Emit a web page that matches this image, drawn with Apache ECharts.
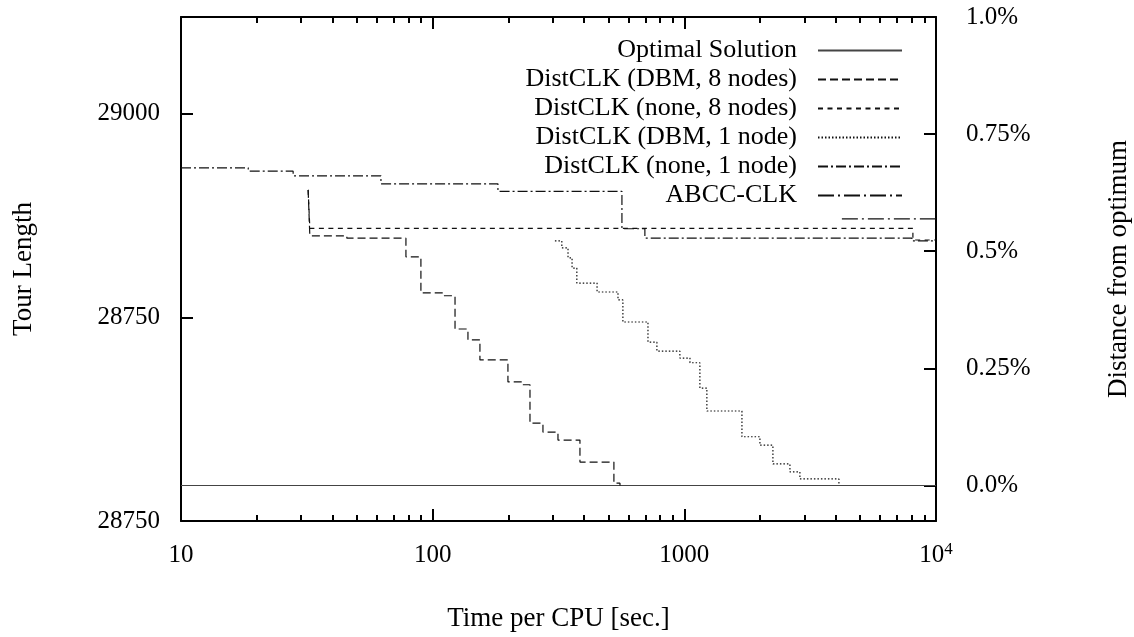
<!DOCTYPE html>
<html>
<head>
<meta charset="utf-8">
<script src="https://cdn.jsdelivr.net/npm/echarts@6/dist/echarts.min.js"></script>
<style>
  html, body { margin: 0; background: #fff; }
  #chart { width: 1134px; height: 637px; }
</style>
</head>
<body>
<div id="chart"></div>
<script>
// tick values / labels
const xTickValues = [10, 100, 1000, 10000];
const xTickLabels = ['10', '100', '1000', '10^4'];
const xMinorTicks = [20, 30, 40, 50, 60, 70, 80, 90, 200, 300, 400, 500, 600, 700, 800, 900,
  2000, 3000, 4000, 5000, 6000, 7000, 8000, 9000];
const leftTickValues = [28500, 28750, 29000];
const leftTickLabels = ['28750', '28750', '29000'];
const rightTickValues = [0, 0.25, 0.5, 0.75, 1.0];
const rightTickLabels = ['0.0%', '0.25%', '0.5%', '0.75%', '1.0%'];

const names = ['Optimal Solution', 'DistCLK (DBM, 8 nodes)', 'DistCLK (none, 8 nodes)',
  'DistCLK (DBM, 1 node)', 'DistCLK (none, 1 node)', 'ABCC-CLK'];

// [time in sec, distance from optimum in %]
const optimal = [[10, 0], [10000, 0]];
const dbm8 = [[32, 0.631], [32.5, 0.533], [45.6, 0.528], [78.3, 0.488], [89.8, 0.411], [109.9, 0.405],
  [122.7, 0.334], [138.1, 0.311], [154.1, 0.268], [199.1, 0.221], [228.5, 0.215], [243.6, 0.133],
  [274.3, 0.114], [314.7, 0.097], [384.8, 0.050], [525, 0.005], [555, 0]];
const none8 = [[32, 0.631], [32.5, 0.549], [8095, 0.524], [10000, 0.524]];
const dbm1 = [[306, 0.522], [326, 0.507], [345, 0.486], [358, 0.464], [374, 0.432], [450, 0.413],
  [545, 0.396], [570, 0.349], [717, 0.306], [778, 0.287], [960, 0.272], [1053, 0.262], [1153, 0.208],
  [1229, 0.159], [1694, 0.104], [1997, 0.086], [2249, 0.046], [2628, 0.029], [2879, 0.014], [4114, 0]];
const none1 = [[10, 0.678], [18.5, 0.671], [27.9, 0.661], [62.3, 0.644], [181.7, 0.628], [565, 0.548],
  [697, 0.528], [8023, 0.522], [10000, 0.522]];
const abcc = [[4227, 0.569], [10000, 0.569]];

const FONT = 'Liberation Serif';
const txt = { fontFamily: FONT, fontSize: 25, color: '#000' };
const nameTxt = { fontFamily: FONT, fontSize: 27, color: '#000' };
const frame = { color: '#000', width: 2 };

const seriesData = [optimal, dbm8, none8, dbm1, none1, abcc];
const dashes = ['solid', [8, 4], [5, 4.5], [1.5, 2], [10, 3, 2, 3], [16, 4, 2, 4]];
const steps = [false, 'end', 'end', 'end', 'end', false];

const lookup = (vals, labels, v) => {
  const i = vals.findIndex(t => Math.abs(t - v) < 1e-6 * Math.max(1, Math.abs(t)));
  return i < 0 ? '' : labels[i];
};

const xAxisBase = {
  type: 'log', logBase: 10, min: 10, max: 10000,
  splitLine: { show: false },
  axisLabel: { show: false },
};

const myChart = echarts.init(document.getElementById('chart'));
myChart.setOption({
  animation: false,
  backgroundColor: '#fff',
  grid: { left: 181, right: 198, top: 17, bottom: 116, outerBoundsMode: 'none' },
  legend: {
    orient: 'vertical',
    right: 226,
    top: 31,
    align: 'right',
    itemWidth: 84,
    itemHeight: 14,
    itemGap: 0,
    selectedMode: false,
    itemStyle: { opacity: 0 },
    textStyle: { ...txt, fontSize: 26, lineHeight: 29, padding: [0, 16, 0, 0] },
    data: names
  },
  xAxis: [
    {
      ...xAxisBase,
      position: 'bottom',
      axisLine: { onZero: false, lineStyle: frame },
      axisTick: { inside: true, length: 12, customValues: xTickValues, lineStyle: frame },
      axisLabel: {
        customValues: xTickValues,
        margin: 20,
        formatter: v => {
          const s = lookup(xTickValues, xTickLabels, v);
          const p = s.split('^');
          return p.length > 1 ? `{b|${p[0]}}{sup|${p[1]}}` : `{b|${s}}`;
        },
        rich: {
          b: { ...txt, lineHeight: 28 },
          sup: { fontFamily: FONT, fontSize: 17, color: '#000', lineHeight: 28, verticalAlign: 'top' }
        }
      },
      name: 'Time per CPU [sec.]',
      nameLocation: 'middle',
      nameGap: 84,
      nameTextStyle: nameTxt
    },
    {
      ...xAxisBase,
      position: 'bottom',
      axisLine: { show: false, onZero: false },
      axisTick: { inside: true, length: 6, customValues: xMinorTicks, lineStyle: frame }
    },
    {
      ...xAxisBase,
      position: 'top',
      axisLine: { onZero: false, lineStyle: frame },
      axisTick: { inside: true, length: 12, customValues: xTickValues, lineStyle: frame }
    },
    {
      ...xAxisBase,
      position: 'top',
      axisLine: { show: false, onZero: false },
      axisTick: { inside: true, length: 6, customValues: xMinorTicks, lineStyle: frame }
    }
  ],
  yAxis: [
    {
      type: 'value',
      position: 'left',
      min: 28500,
      max: 29119,
      splitLine: { show: false },
      axisLine: { show: true, onZero: false, lineStyle: frame },
      axisTick: { show: true, inside: true, length: 12, customValues: [28750, 29000], lineStyle: frame },
      axisLabel: {
        ...txt,
        margin: 21,
        customValues: leftTickValues,
        formatter: v => lookup(leftTickValues, leftTickLabels, v)
      },
      name: 'Tour Length',
      nameLocation: 'middle',
      nameRotate: 90,
      nameGap: 144,
      nameTextStyle: nameTxt
    },
    {
      type: 'value',
      position: 'right',
      min: -0.0758,
      max: 1.0,
      splitLine: { show: false },
      axisLine: { show: true, onZero: false, lineStyle: frame },
      axisTick: { show: true, inside: true, length: 12, customValues: [0, 0.25, 0.5, 0.75], lineStyle: frame },
      axisLabel: {
        ...txt,
        margin: 30,
        customValues: rightTickValues,
        formatter: v => lookup(rightTickValues, rightTickLabels, v)
      },
      name: 'Distance from optimum',
      nameLocation: 'middle',
      nameRotate: 90,
      nameGap: 169,
      nameTextStyle: nameTxt
    }
  ],
  series: names.map((n, i) => ({
    name: n,
    type: 'line',
    xAxisIndex: 0,
    yAxisIndex: 1,
    data: seriesData[i],
    step: steps[i],
    symbol: 'none',
    lineStyle: { color: i === 0 ? '#444' : '#111', width: 1.2, type: dashes[i] }
  }))
});
</script>
</body>
</html>
